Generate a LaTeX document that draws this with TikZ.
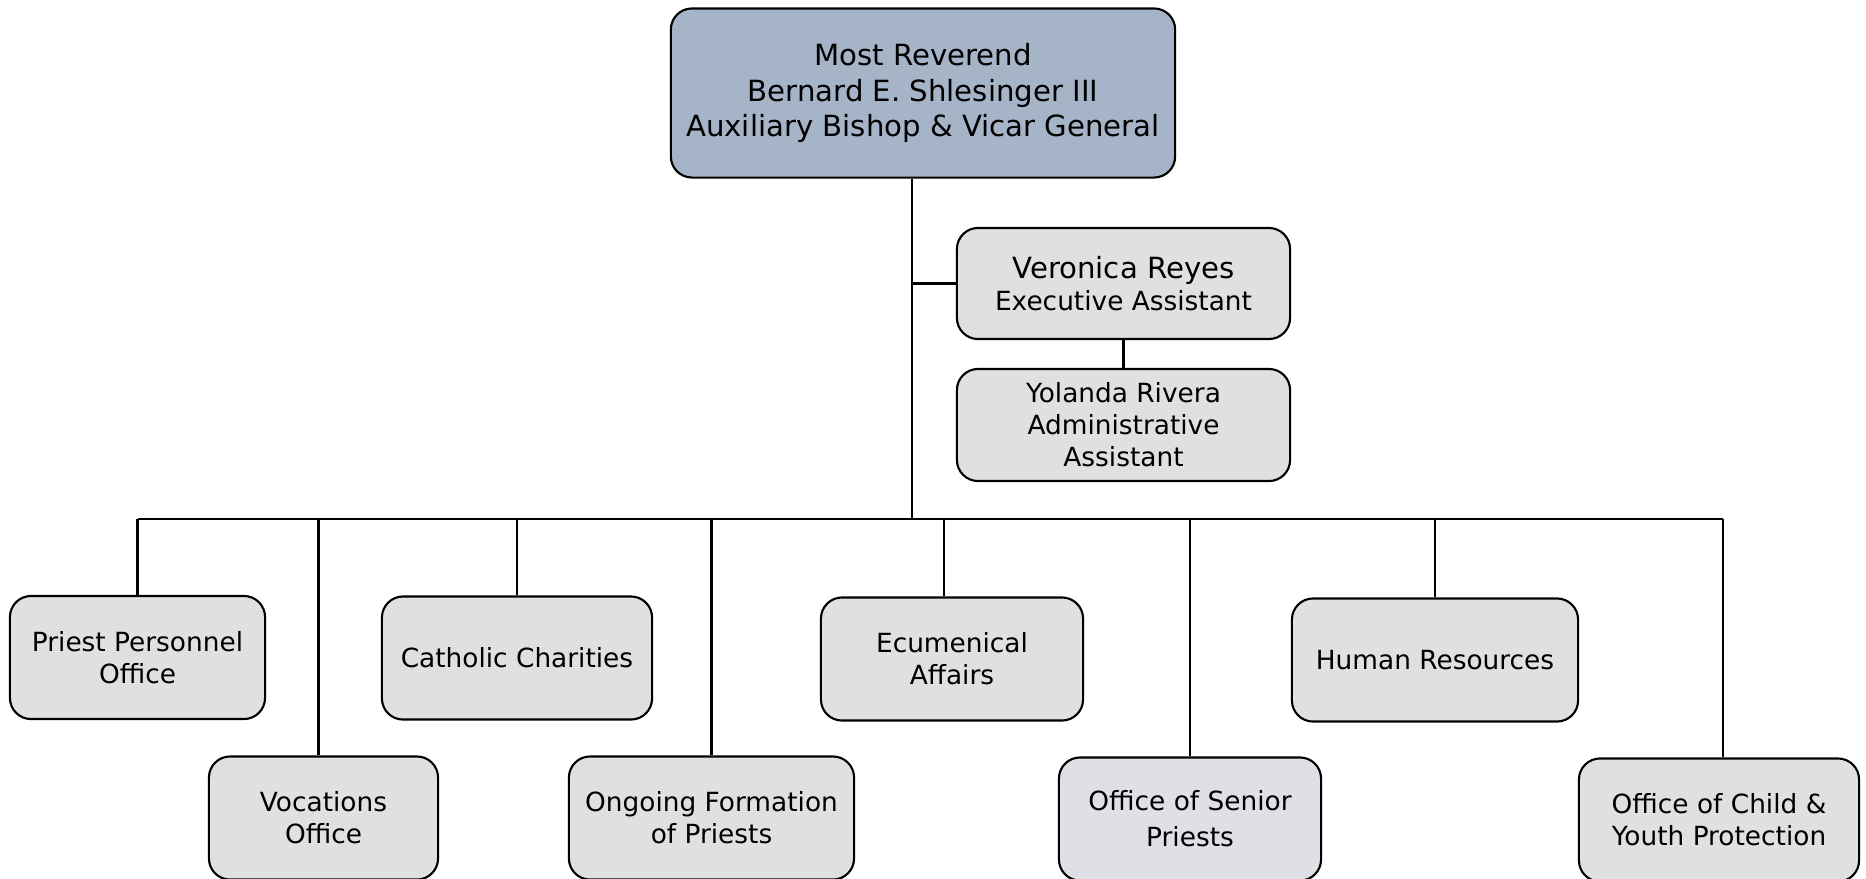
\documentclass[tikz,border=0pt]{standalone}
\usepackage{fontspec}
\setmainfont{DejaVu Sans}
\definecolor{bosscol}{RGB}{166,180,200}
\definecolor{unitcol}{RGB}{224,224,226}
\definecolor{seniorcol}{RGB}{222,224,229}

\begin{document}
\begin{tikzpicture}[x=0.01cm, y=-0.01cm, line width=0.6pt,
  box/.style = {draw, rounded corners=6pt, align=center, inner sep=0pt},
  boss/.style = {box, fill=bosscol, font=\fontsize{8.3}{10.2}\selectfont},
  unit/.style = {box, fill=unitcol, font=\fontsize{7.5}{9.1}\selectfont, minimum height=1.23cm}]
\useasboundingbox (0,0) rectangle (1866,878);
\node[boss, minimum width=5.04cm, minimum height=1.69cm] (bishop) at (923,93)
  {Most Reverend\\Bernard E. Shlesinger III\\Auxiliary Bishop \& Vicar General};
\node[unit, minimum width=3.33cm, minimum height=1.11cm] (veronica) at (1123.5,283.5)
  {{\fontsize{8.3}{10.2}\selectfont Veronica Reyes}\\Executive Assistant};
\node[unit, minimum width=3.33cm, minimum height=1.12cm] (yolanda) at (1123.5,425)
  {Yolanda Rivera\\Administrative\\Assistant};
% first row
\node[unit, minimum width=2.55cm] (priest) at (137.5,657.5) {Priest Personnel\\Office};
\node[unit, minimum width=2.70cm] (charities) at (517,658) {Catholic Charities};
\node[unit, minimum width=2.62cm] (ecum) at (952,659) {Ecumenical\\Affairs};
\node[unit, minimum width=2.86cm] (hr) at (1435,660) {Human Resources};
% second row
\node[unit, minimum width=2.29cm] (vocations) at (323.5,818) {Vocations\\Office};
\node[unit, minimum width=2.85cm] (ongoing) at (711.5,818) {Ongoing Formation\\of Priests};
\node[unit, fill=seniorcol, minimum width=2.62cm, font=\fontsize{7.5}{10.2}\selectfont] (senior) at (1190,819) {Office of Senior\\Priests};
\node[unit, minimum width=2.80cm] (child) at (1719,820) {Office of Child \&\\Youth Protection};
% lines
\coordinate (trunk) at (912,519);
\draw (bishop.south -| trunk) -- (trunk);
\draw (trunk |- veronica.west) -- (veronica.west);
\draw (veronica) -- (yolanda);
\draw (priest.north |- trunk) -- ([xshift=0.04cm]child.north |- trunk);
\draw (priest.north) -- (priest.north |- trunk);
\draw ([xshift=-0.05cm]vocations.north) -- ([xshift=-0.05cm]vocations.north |- trunk);
\draw (charities.north) -- (charities.north |- trunk);
\draw (ongoing.north) -- (ongoing.north |- trunk);
\draw ([xshift=-0.08cm]ecum.north) -- ([xshift=-0.08cm]ecum.north |- trunk);
\draw (senior.north) -- (senior.north |- trunk);
\draw (hr.north) -- (hr.north |- trunk);
\draw ([xshift=0.04cm]child.north) -- ([xshift=0.04cm]child.north |- trunk);
\end{tikzpicture}
\end{document}
